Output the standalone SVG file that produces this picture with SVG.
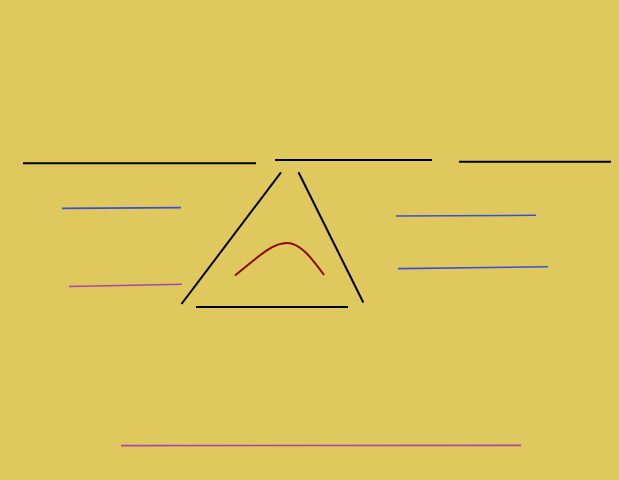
<svg xmlns="http://www.w3.org/2000/svg" width="619" height="480" viewBox="0 0 619 480">
<style>
.k{stroke:#000;stroke-width:2;fill:none;stroke-linecap:butt}
.b{stroke:#3a4fd6;stroke-width:1.6;fill:none}
.p{stroke:#a548b0;stroke-width:1.6;fill:none}
.r{stroke:#8b0a0a;stroke-width:2;fill:none}
</style>
<rect width="619" height="480" fill="#dfc85e"/>
<g id="lines">
<line class="k" x1="23" y1="163.3" x2="256" y2="163.3"/>
<line class="k" x1="275" y1="160" x2="432" y2="160"/>
<line class="k" x1="459" y1="161.7" x2="611" y2="161.7"/>
<line class="b" x1="62" y1="208.4" x2="181" y2="207.6"/>
<line class="p" x1="69" y1="286.5" x2="182" y2="284.2"/>
<line class="b" x1="396" y1="216" x2="536" y2="215.3"/>
<line class="b" x1="398" y1="268.6" x2="548" y2="266.8"/>
<line class="p" x1="121" y1="445.6" x2="521" y2="445.4"/>
</g>
<g id="triangle">
<line class="k" x1="281" y1="172.3" x2="181.5" y2="304"/>
<line class="k" x1="298.5" y1="172.3" x2="363.3" y2="302.5"/>
<line class="k" x1="196" y1="307" x2="348" y2="307"/>
<path class="r" d="M235,275.5 C258,257 272,243 287,243 C300,243 311,257 324,275"/>
</g>
</svg>
